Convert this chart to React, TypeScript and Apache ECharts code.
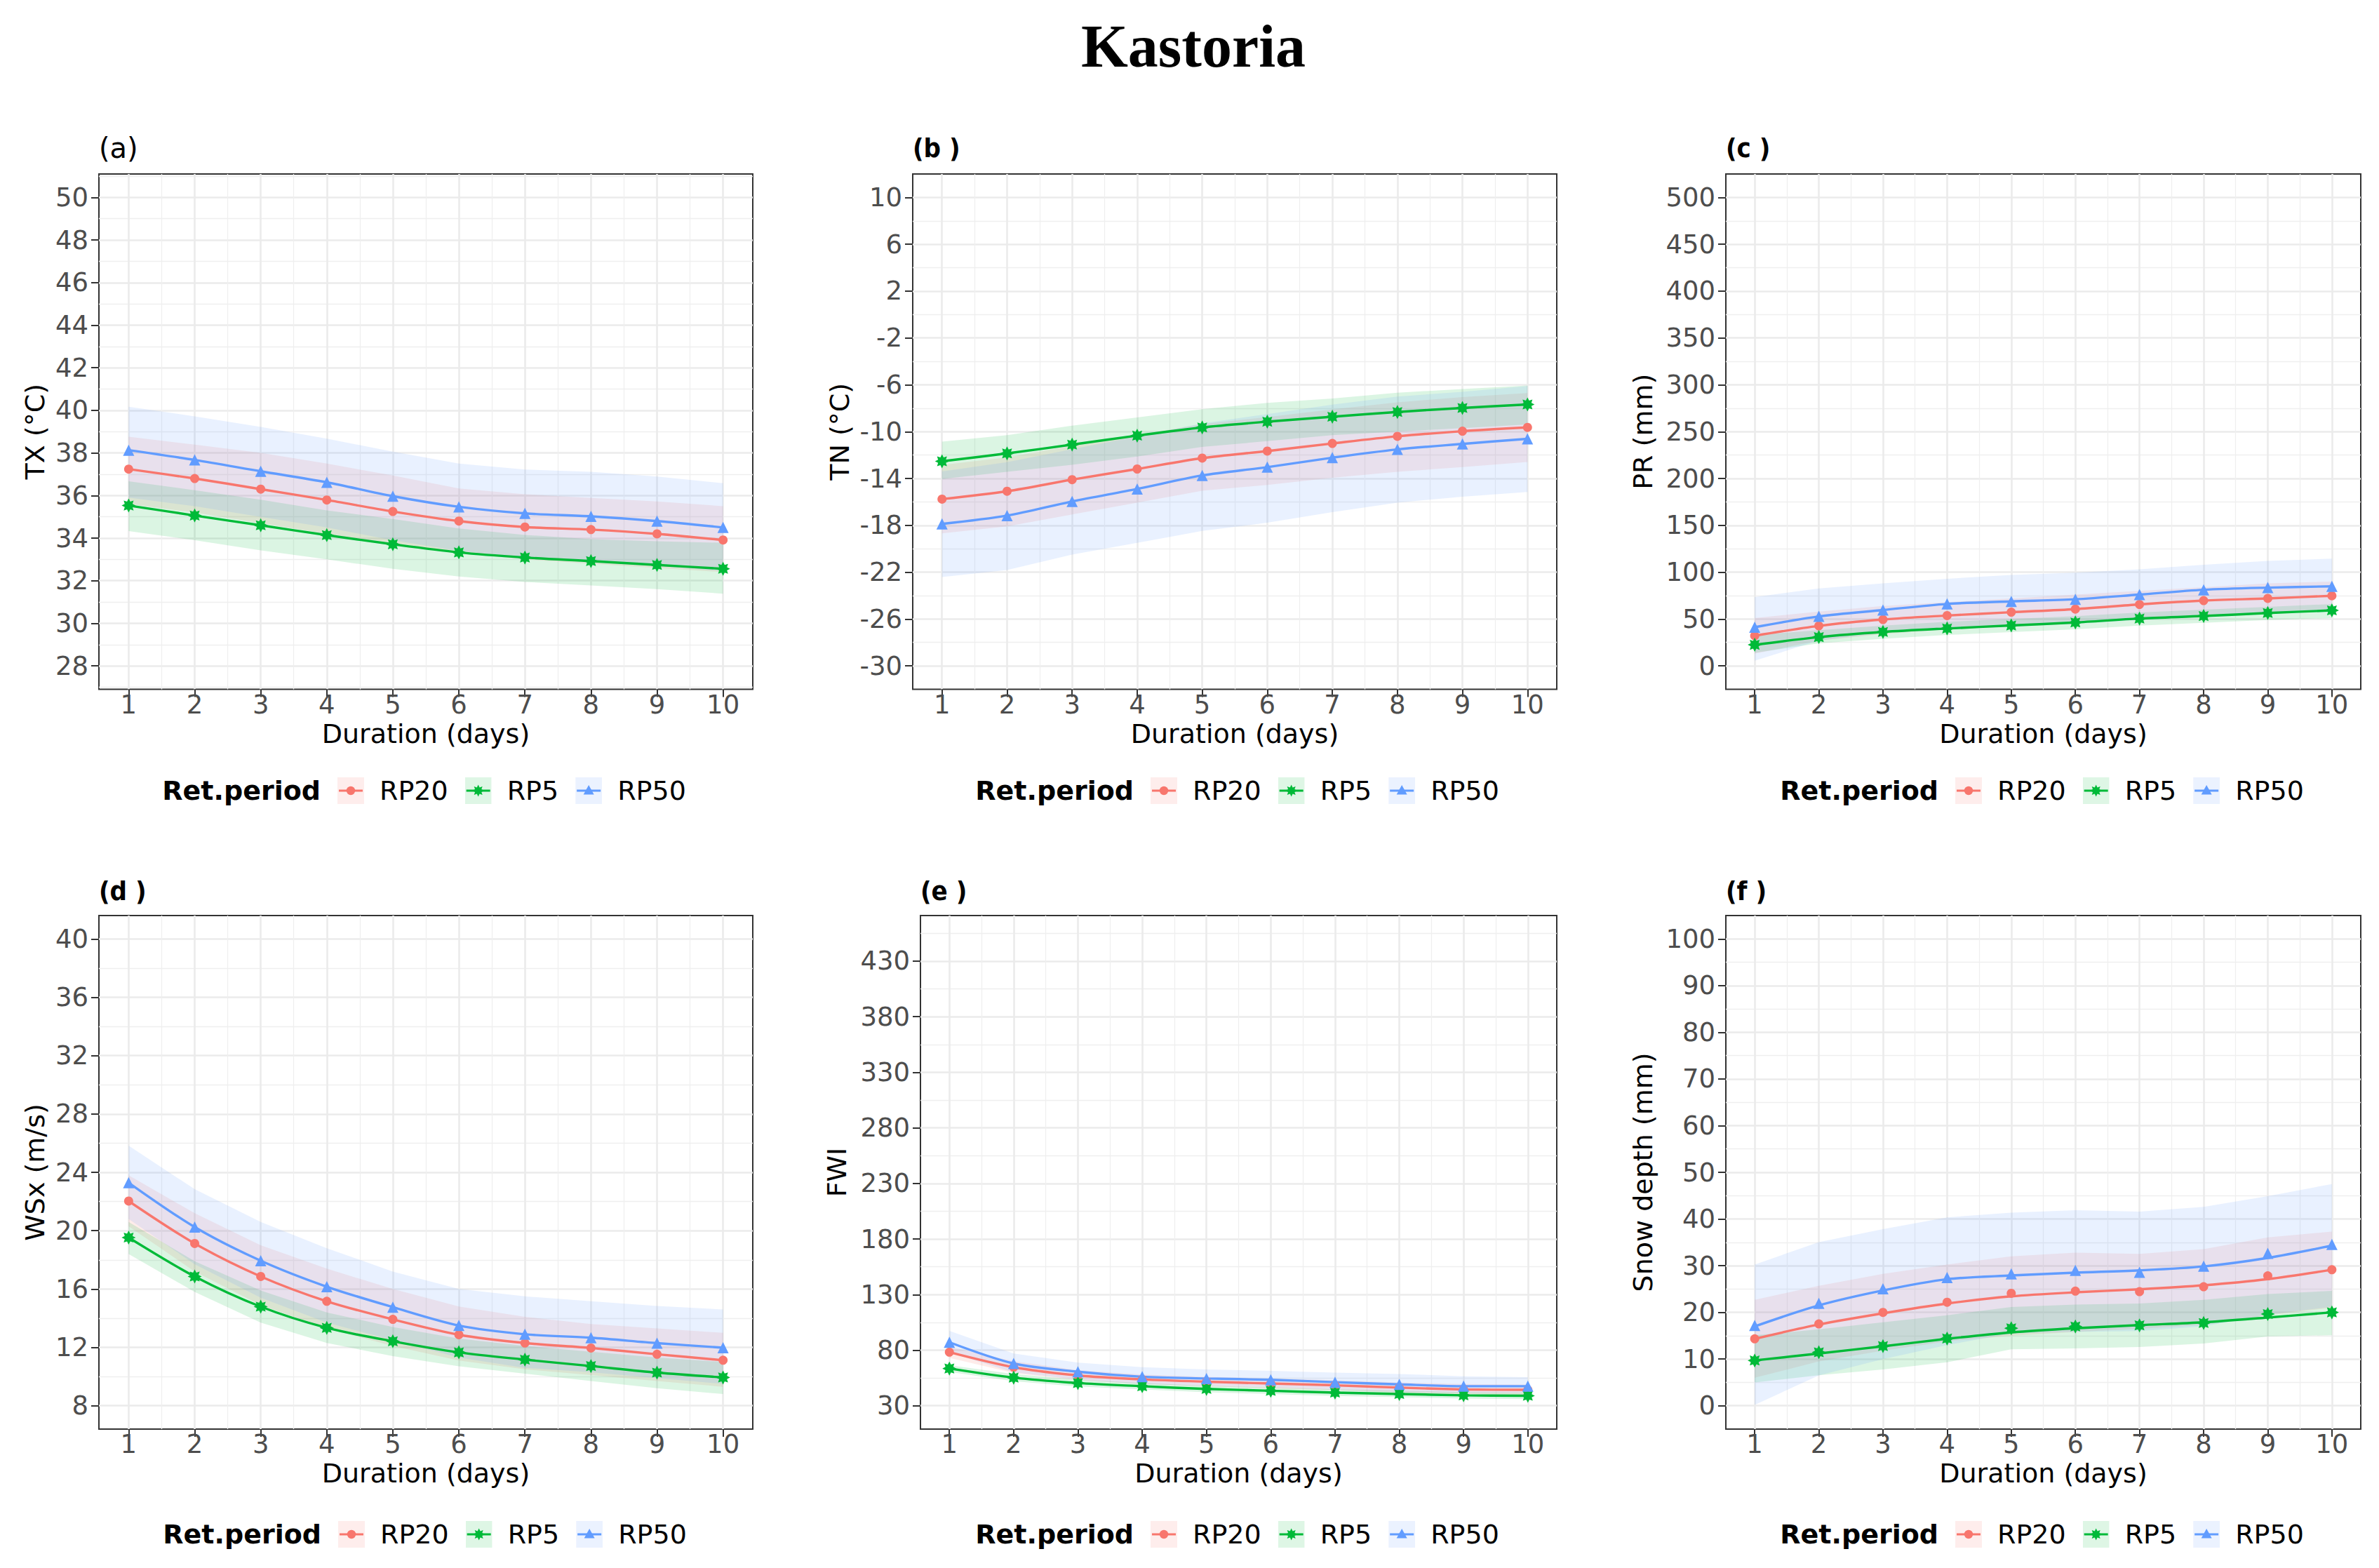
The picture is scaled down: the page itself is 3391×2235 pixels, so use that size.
import React, { useEffect, useRef } from 'react';
import * as echarts from 'echarts';

// ---------- shared ----------
const days = [1, 2, 3, 4, 5, 6, 7, 8, 9, 10];
const rpNames = ['RP20', 'RP5', 'RP50'];
const rpColors = ['#F8766D', '#00BA38', '#619CFF'];
const xTicks = [1, 2, 3, 4, 5, 6, 7, 8, 9, 10];
const xMinorTicks = [1.5, 2.5, 3.5, 4.5, 5.5, 6.5, 7.5, 8.5, 9.5];

// ---------- (a) TX ----------
const txTicks = [28, 30, 32, 34, 36, 38, 40, 42, 44, 46, 48, 50];
const txRP20 = [37.24, 36.8, 36.3, 35.79, 35.25, 34.8, 34.52, 34.4, 34.2, 33.91];
const txRP5 = [35.53, 35.06, 34.6, 34.14, 33.71, 33.33, 33.09, 32.92, 32.74, 32.56];
const txRP50 = [38.13, 37.67, 37.14, 36.62, 35.97, 35.47, 35.16, 35.02, 34.8, 34.5];
const txRP20Hi = [38.76, 38.39, 38.0, 37.5, 36.94, 36.33, 36.06, 35.89, 35.72, 35.5];
const txRP20Lo = [35.6, 35.2, 34.7, 34.2, 33.7, 33.3, 33.0, 32.8, 32.6, 32.4];
const txRP5Hi = [36.67, 36.25, 35.8, 35.3, 34.9, 34.45, 34.15, 33.95, 33.85, 33.78];
const txRP5Lo = [34.33, 33.9, 33.42, 33.0, 32.56, 32.2, 31.94, 31.78, 31.6, 31.39];
const txRP50Hi = [40.17, 39.72, 39.22, 38.67, 38.06, 37.5, 37.22, 37.11, 36.89, 36.58];
const txRP50Lo = [35.9, 35.5, 35.0, 34.5, 33.9, 33.4, 33.1, 32.9, 32.7, 32.45];

// ---------- (b) TN ----------
const tnTicks = [-30, -26, -22, -18, -14, -10, -6, -2, 2, 6, 10];
const tnRP20 = [-15.76, -15.09, -14.1, -13.19, -12.26, -11.66, -11.01, -10.4, -9.96, -9.64];
const tnRP5 = [-12.53, -11.86, -11.11, -10.34, -9.64, -9.15, -8.73, -8.32, -7.98, -7.68];
const tnRP50 = [-17.88, -17.17, -15.96, -14.89, -13.74, -13.03, -12.22, -11.52, -11.05, -10.61];
const tnRP20Hi = [-12.85, -12.2, -11.2, -10.3, -9.35, -8.75, -8.1, -7.5, -7.05, -6.7];
const tnRP20Lo = [-18.69, -18.08, -17.07, -16.06, -15.05, -14.55, -13.94, -13.43, -13.03, -12.59];
const tnRP5Hi = [-10.85, -10.3, -9.49, -8.79, -8.08, -7.54, -7.17, -6.67, -6.36, -6.06];
const tnRP5Lo = [-14.04, -13.43, -12.83, -12.12, -11.31, -10.81, -10.3, -10.0, -9.7, -9.39];
const tnRP50Hi = [-13.4, -12.6, -11.5, -10.4, -9.3, -8.5, -7.7, -7.0, -6.6, -6.1];
const tnRP50Lo = [-22.42, -21.82, -20.5, -19.5, -18.48, -17.78, -16.87, -16.06, -15.56, -15.15];

// ---------- (c) PR ----------
const prTicks = [0, 50, 100, 150, 200, 250, 300, 350, 400, 450, 500];
const prRP20 = [32.1, 42.7, 49.5, 53.7, 57.3, 60.6, 65.6, 69.7, 72.0, 74.8];
const prRP5 = [22.5, 30.7, 36.2, 39.9, 43.1, 46.3, 50.5, 53.2, 56.4, 59.2];
const prRP50 = [41.3, 52.8, 59.6, 66.1, 68.8, 71.1, 76.1, 81.2, 83.5, 84.9];
const prRP20Hi = [51, 58, 64, 68, 72, 76, 80, 84, 88, 90];
const prRP20Lo = [13, 27, 34, 39, 42, 45, 50, 54, 57, 60];
const prRP5Hi = [33, 38, 43, 47, 50, 53, 57, 60, 63, 66];
const prRP5Lo = [14, 24, 29, 33, 36, 39, 43, 46, 49, 51];
const prRP50Hi = [73.4, 82.6, 88, 93, 97, 99.5, 103, 108, 112, 114.5];
const prRP50Lo = [5.5, 27, 35, 40, 43, 45, 49, 53, 56, 58];

// ---------- (d) WSx ----------
const wsTicks = [8, 12, 16, 20, 24, 28, 32, 36, 40];
const wsRP20 = [22.03, 19.12, 16.86, 15.16, 13.92, 12.87, 12.3, 11.96, 11.53, 11.12];
const wsRP5 = [19.53, 16.86, 14.79, 13.34, 12.42, 11.66, 11.16, 10.72, 10.27, 9.94];
const wsRP50 = [23.29, 20.25, 17.94, 16.16, 14.76, 13.5, 12.9, 12.66, 12.29, 11.98];
const wsRP20Hi = [23.8, 21.2, 19.0, 17.4, 16.0, 14.8, 14.1, 13.6, 13.3, 13.0];
const wsRP20Lo = [20.3, 17.2, 14.9, 13.3, 12.1, 11.1, 10.5, 10.1, 9.7, 9.3];
const wsRP5Hi = [20.6, 17.9, 15.9, 14.4, 13.4, 12.6, 12.1, 11.7, 11.3, 11.0];
const wsRP5Lo = [18.4, 15.8, 13.7, 12.3, 11.4, 10.7, 10.2, 9.7, 9.2, 8.8];
const wsRP50Hi = [25.83, 22.84, 20.6, 18.8, 17.2, 16.0, 15.5, 15.16, 14.84, 14.6];
const wsRP50Lo = [20.8, 17.7, 15.4, 13.7, 12.5, 11.3, 10.6, 10.3, 9.9, 9.5];

// ---------- (e) FWI ----------
const fwiTicks = [30, 80, 130, 180, 230, 280, 330, 380, 430];
const fwiRP20 = [78.2, 64.7, 57.3, 53.7, 51.6, 50.0, 48.4, 46.3, 44.7, 44.3];
const fwiRP5 = [63.5, 55.3, 50.4, 47.6, 45.1, 43.5, 41.8, 40.6, 39.4, 39.0];
const fwiRP50 = [87.1, 68.0, 60.6, 56.1, 54.5, 53.3, 51.2, 49.2, 47.6, 47.6];
const fwiRP20Hi = [83, 70, 62, 58, 56, 54.5, 53, 51, 49.5, 49];
const fwiRP20Lo = [73, 59.5, 53, 49.5, 47.5, 45.8, 44, 42, 40.5, 40];
const fwiRP5Hi = [66.5, 58.5, 53.5, 50.5, 48, 46.5, 44.8, 43.5, 42.3, 42];
const fwiRP5Lo = [60.5, 52, 47.3, 44.7, 42.2, 40.5, 38.8, 37.7, 36.5, 36];
const fwiRP50Hi = [97.3, 77, 68.8, 64.7, 62.7, 61.4, 59.8, 58.6, 56.5, 55.7];
const fwiRP50Lo = [78, 60, 53.5, 49.5, 47.8, 46.5, 44.5, 42.5, 41.5, 41.5];

// ---------- (f) Snow depth ----------
const snowTicks = [0, 10, 20, 30, 40, 50, 60, 70, 80, 90, 100];
const snowRP20 = [14.34, 17.53, 20.0, 22.17, 24.09, 24.55, 24.44, 25.5, 27.83, 29.14];
const snowRP5 = [9.7, 11.46, 12.78, 14.4, 16.6, 16.97, 17.22, 17.73, 19.65, 20.0];
const snowRP50 = [17.22, 21.92, 25.05, 27.47, 28.23, 28.99, 28.59, 29.9, 32.63, 34.55];
const snowRP20Fit = [14.34, 17.4, 19.8, 21.9, 23.43, 24.3, 24.95, 25.8, 27.12, 29.14];
const snowRP5Fit = [9.7, 11.2, 12.73, 14.34, 15.71, 16.6, 17.27, 17.88, 18.9, 20.0];
const snowRP50Fit = [17.0, 21.5, 24.7, 27.1, 27.9, 28.5, 29.0, 29.85, 31.67, 34.3];
const snowRP20Hi = [22.68, 25.7, 28.23, 30.25, 32.0, 32.78, 32.53, 33.54, 36.06, 37.32];
const snowRP20Lo = [6.0, 9.5, 11.8, 13.8, 15.0, 15.8, 16.5, 17.3, 19.4, 21.0];
const snowRP5Hi = [15.1, 16.36, 17.88, 19.4, 21.16, 21.67, 21.9, 22.68, 23.94, 24.6];
const snowRP5Lo = [5.0, 6.52, 7.78, 9.3, 12.1, 12.3, 12.58, 13.33, 14.85, 15.1];
const snowRP50Hi = [30.25, 35.05, 37.83, 40.35, 41.36, 41.87, 41.6, 42.6, 44.9, 47.5];
const snowRP50Lo = [0.2, 6.5, 10, 13, 15.5, 15.8, 16, 17, 19.5, 21.2];

// ---------- layout / style ----------
const FONT = 'DejaVu Sans';
const W = 3391;
const H = 2235;

type Panel = {
  tag: string;
  tagBold: boolean;
  yName: string;
  yNameGap: number;
  rect: [number, number, number, number];
  yMin: number;
  yMax: number;
  ticks: number[];
  pts: number[][];
  fit: number[][];
  hi: number[][];
  lo: number[][];
  legendLeft: number;
  legendTop: number;
  tagY: number;
};

const panels: Panel[] = [
  {
    tag: '(a)', tagBold: false, yName: 'TX (°C)', yNameGap: 72, rect: [141, 248, 1073, 982.5],
    yMin: 26.9, yMax: 51.1, ticks: txTicks,
    pts: [txRP20, txRP5, txRP50], fit: [txRP20, txRP5, txRP50],
    hi: [txRP20Hi, txRP5Hi, txRP50Hi], lo: [txRP20Lo, txRP5Lo, txRP50Lo],
    legendLeft: 481, legendTop: 1108, tagY: 211,
  },
  {
    tag: '(b )', tagBold: true, yName: 'TN (°C)', yNameGap: 85, rect: [1301, 248, 2219, 982.5],
    yMin: -32, yMax: 12, ticks: tnTicks,
    pts: [tnRP20, tnRP5, tnRP50], fit: [tnRP20, tnRP5, tnRP50],
    hi: [tnRP20Hi, tnRP5Hi, tnRP50Hi], lo: [tnRP20Lo, tnRP5Lo, tnRP50Lo],
    legendLeft: 1640, legendTop: 1108, tagY: 211,
  },
  {
    tag: '(c )', tagBold: true, yName: 'PR (mm)', yNameGap: 99, rect: [2460, 248, 3365, 982.5],
    yMin: -25, yMax: 525, ticks: prTicks,
    pts: [prRP20, prRP5, prRP50], fit: [prRP20, prRP5, prRP50],
    hi: [prRP20Hi, prRP5Hi, prRP50Hi], lo: [prRP20Lo, prRP5Lo, prRP50Lo],
    legendLeft: 2787, legendTop: 1108, tagY: 211,
  },
  {
    tag: '(d )', tagBold: true, yName: 'WSx (m/s)', yNameGap: 72, rect: [141, 1305, 1073, 2037],
    yMin: 6.4, yMax: 41.6, ticks: wsTicks,
    pts: [wsRP20, wsRP5, wsRP50], fit: [wsRP20, wsRP5, wsRP50],
    hi: [wsRP20Hi, wsRP5Hi, wsRP50Hi], lo: [wsRP20Lo, wsRP5Lo, wsRP50Lo],
    legendLeft: 482, legendTop: 2168, tagY: 1270,
  },
  {
    tag: '(e )', tagBold: true, yName: 'FWI', yNameGap: 100, rect: [1312, 1305, 2219, 2037],
    yMin: 9, yMax: 471, ticks: fwiTicks,
    pts: [fwiRP20, fwiRP5, fwiRP50], fit: [fwiRP20, fwiRP5, fwiRP50],
    hi: [fwiRP20Hi, fwiRP5Hi, fwiRP50Hi], lo: [fwiRP20Lo, fwiRP5Lo, fwiRP50Lo],
    legendLeft: 1640, legendTop: 2168, tagY: 1270,
  },
  {
    tag: '(f )', tagBold: true, yName: 'Snow depth (mm)', yNameGap: 99, rect: [2460, 1305, 3365, 2037],
    yMin: -5, yMax: 105, ticks: snowTicks,
    pts: [snowRP20, snowRP5, snowRP50], fit: [snowRP20Fit, snowRP5Fit, snowRP50Fit],
    hi: [snowRP20Hi, snowRP5Hi, snowRP50Hi], lo: [snowRP20Lo, snowRP5Lo, snowRP50Lo],
    legendLeft: 2787, legendTop: 2168, tagY: 1270,
  },
];

function minorOf(ticks: number[], min: number, max: number): number[] {
  const s = ticks[1] - ticks[0];
  const out: number[] = [];
  for (let v = ticks[0] - s / 2; v <= ticks[ticks.length - 1] + s / 2 + 1e-9; v += s) {
    if (v > min + 1e-9 && v < max - 1e-9) out.push(+v.toFixed(6));
  }
  return out;
}

function starPoints(cx: number, cy: number, R: number, r: number): number[][] {
  const pts: number[][] = [];
  for (let i = 0; i < 16; i++) {
    const rad = i % 2 === 0 ? R : r;
    const a = (Math.PI * i) / 8 - Math.PI / 2;
    pts.push([cx + rad * Math.cos(a), cy + rad * Math.sin(a)]);
  }
  return pts;
}

const starPath =
  'path://M' + starPoints(10, 10, 10, 6.0).map((p) => p[0].toFixed(2) + ',' + p[1].toFixed(2)).join('L') + 'Z';

const symbols = ['circle', starPath, 'triangle'];
const symbolSizes = [13, 20, 16];

function legendIcon(color: string, k: number): string {
  let marker = '';
  if (k === 0) marker = `<circle cx='19' cy='19' r='6.2' fill='${color}'/>`;
  else if (k === 2) marker = `<polygon points='19,11 26.5,24.5 11.5,24.5' fill='${color}'/>`;
  else
    marker = `<polygon points='${starPoints(19, 19, 8.5, 5.0)
      .map((p) => p[0].toFixed(2) + ',' + p[1].toFixed(2))
      .join(' ')}' fill='${color}'/>`;
  const svg = `<svg xmlns='http://www.w3.org/2000/svg' width='38' height='38' viewBox='0 0 38 38'><rect x='0' y='0' width='38' height='38' fill='${color}' fill-opacity='0.13'/><line x1='2' y1='19' x2='36' y2='19' stroke='${color}' stroke-width='3'/>${marker}</svg>`;
  return 'image://data:image/svg+xml;charset=utf-8,' + encodeURIComponent(svg);
}

function bandSeries(i: number, k: number, lo: number[], hi: number[]) {
  return {
    type: 'custom',
    name: rpNames[k] + ' band',
    xAxisIndex: 2 * i,
    yAxisIndex: 2 * i,
    silent: true,
    clip: true,
    z: 1,
    data: days.map((d, j) => [d, lo[j], hi[j]]),
    encode: { x: 0, y: [1, 2] },
    renderItem: (params: any, api: any) => {
      if (params.dataIndex !== 0) return null;
      const upper = days.map((d, j) => api.coord([d, hi[j]]));
      const lower = days.map((d, j) => api.coord([d, lo[j]])).reverse();
      return {
        type: 'polygon',
        shape: { points: upper.concat(lower) },
        style: { fill: rpColors[k], opacity: 0.14 },
      };
    },
  };
}

function buildOption() {
  const grid: any[] = [];
  const xAxis: any[] = [];
  const yAxis: any[] = [];
  const series: any[] = [];
  const legend: any[] = [];
  const graphic: any[] = [];

  graphic.push({
    type: 'text',
    x: 1701,
    y: 66,
    style: {
      text: 'Kastoria',
      fontFamily: 'Liberation Serif',
      fontWeight: 'bold',
      fontSize: 86,
      fill: '#000',
      align: 'center',
      verticalAlign: 'middle',
    },
  });

  panels.forEach((p, i) => {
    const [x1, y1, x2, y2] = p.rect;
    grid.push({
      left: x1,
      top: y1,
      width: x2 - x1,
      height: y2 - y1,
      show: true,
      borderColor: '#333333',
      borderWidth: 2,
      backgroundColor: 'transparent',
      containLabel: false,
      outerBoundsMode: 'none',
    });
    const xMin = 0.55;
    const xMax = 10.45;
    xAxis.push({
      type: 'value',
      gridIndex: i,
      min: xMin,
      max: xMax,
      position: 'bottom',
      axisLine: { show: false, onZero: false },
      axisTick: { show: true, length: 11, lineStyle: { color: '#333333', width: 2 }, customValues: xTicks },
      axisLabel: {
        show: true,
        customValues: xTicks,
        margin: 3,
        fontSize: 37,
        color: '#4D4D4D',
        fontFamily: FONT,
      },
      splitLine: { show: true, lineStyle: { color: '#EBEBEB', width: 2.6 } },
      name: 'Duration (days)',
      nameLocation: 'middle',
      nameGap: 44,
      nameTextStyle: { fontSize: 38, color: '#000', fontFamily: FONT },
    });
    xAxis.push({
      type: 'value',
      gridIndex: i,
      min: xMin,
      max: xMax,
      position: 'top',
      axisLine: { show: false, onZero: false },
      axisTick: { show: false, customValues: xMinorTicks },
      axisLabel: { show: false },
      splitLine: { show: true, lineStyle: { color: '#EFEFEF', width: 1.3 } },
    });
    yAxis.push({
      type: 'value',
      gridIndex: i,
      min: p.yMin,
      max: p.yMax,
      position: 'left',
      axisLine: { show: false, onZero: false },
      axisTick: { show: true, length: 11, lineStyle: { color: '#333333', width: 2 }, customValues: p.ticks },
      axisLabel: {
        show: true,
        customValues: p.ticks,
        margin: 15,
        fontSize: 37,
        color: '#4D4D4D',
        fontFamily: FONT,
      },
      splitLine: { show: true, lineStyle: { color: '#EBEBEB', width: 2.6 } },
      name: p.yName,
      nameLocation: 'middle',
      nameGap: p.yNameGap,
      nameTextStyle: { fontSize: 38, color: '#000', fontFamily: FONT },
    });
    yAxis.push({
      type: 'value',
      gridIndex: i,
      min: p.yMin,
      max: p.yMax,
      position: 'right',
      axisLine: { show: false, onZero: false },
      axisTick: { show: false, customValues: minorOf(p.ticks, p.yMin, p.yMax) },
      axisLabel: { show: false },
      splitLine: { show: true, lineStyle: { color: '#EFEFEF', width: 1.3 } },
    });

    const xi = 2 * i;
    const yi = 2 * i;
    rpNames.forEach((rp, k) => {
      series.push(bandSeries(i, k, p.lo[k], p.hi[k]));
    });
    rpNames.forEach((rp, k) => {
      series.push({
        type: 'line',
        name: rp,
        xAxisIndex: xi,
        yAxisIndex: yi,
        data: days.map((d, j) => [d, p.fit[k][j]]),
        symbol: 'none',
        showSymbol: false,
        smooth: 0.3,
        z: 3,
        lineStyle: { color: rpColors[k], width: 3.4 },
        itemStyle: { color: rpColors[k] },
      });
      series.push({
        type: 'scatter',
        name: rp,
        xAxisIndex: xi,
        yAxisIndex: yi,
        data: days.map((d, j) => [d, p.pts[k][j]]),
        symbol: symbols[k],
        symbolSize: symbolSizes[k],
        z: 4,
        itemStyle: { color: rpColors[k], opacity: 1 },
      });
    });

    legend.push({
      left: p.legendLeft,
      top: p.legendTop,
      orient: 'horizontal',
      padding: 0,
      itemWidth: 38,
      itemHeight: 38,
      itemGap: 24,
      selectedMode: false,
      data: rpNames.map((rp, k) => ({ name: rp, icon: legendIcon(rpColors[k], k) })),
      textStyle: { fontSize: 38, color: '#000', fontFamily: FONT, padding: [0, 0, 0, 17] },
    });

    graphic.push({
      type: 'text',
      x: p.legendLeft - 24,
      y: p.legendTop + 19,
      style: {
        text: 'Ret.period',
        fontFamily: FONT,
        fontWeight: 'bold',
        fontSize: 38,
        fill: '#000',
        align: 'right',
        verticalAlign: 'middle',
      },
    });

    graphic.push({
      type: 'text',
      x: x1,
      y: p.tagY,
      style: {
        text: p.tag,
        fontFamily: p.tagBold ? 'DejaVu Sans Condensed' : FONT,
        fontWeight: p.tagBold ? 'bold' : 'normal',
        fontSize: p.tagBold ? 38 : 40,
        fill: '#000',
        align: 'left',
        verticalAlign: 'middle',
      },
    });
  });

  return {
    animation: false,
    backgroundColor: '#ffffff',
    grid,
    xAxis,
    yAxis,
    series,
    legend,
    graphic,
  };
}

export default function App() {
  const ref = useRef<HTMLDivElement>(null);
  useEffect(() => {
    if (!ref.current) return;
    const chart = echarts.init(ref.current, undefined, { renderer: 'svg', width: W, height: H });
    chart.setOption(buildOption() as any);
    return () => {
      chart.dispose();
    };
  }, []);
  return <div ref={ref} style={{ position: 'absolute', left: 0, top: 0, width: W, height: H }} />;
}
